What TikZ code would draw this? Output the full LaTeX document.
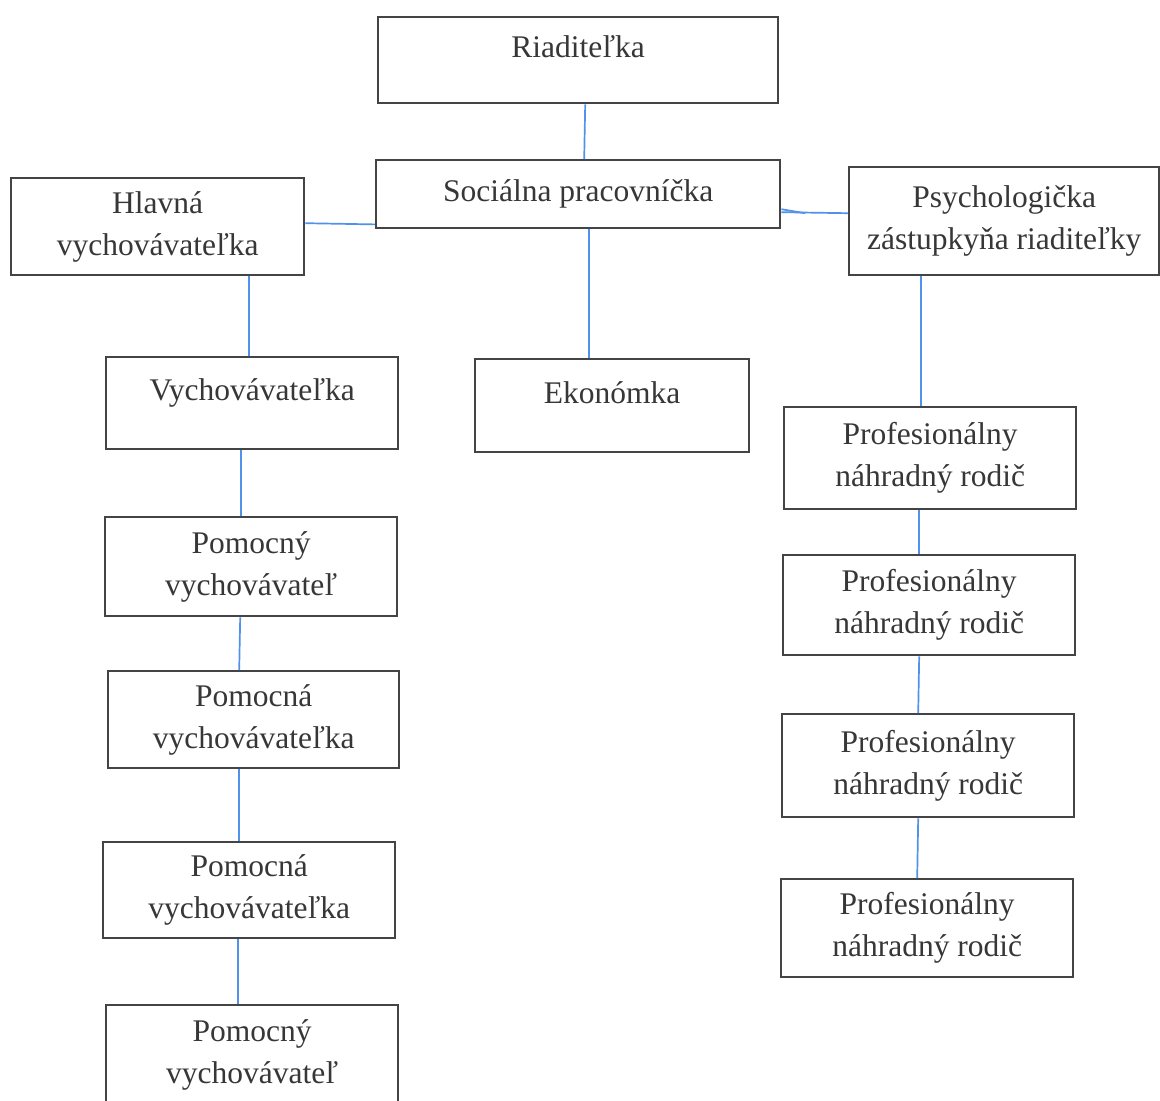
\documentclass[tikz,border=0pt]{standalone}
\usepackage{fontspec}
\setmainfont{Liberation Serif}
\definecolor{boxline}{RGB}{68,68,68}
\definecolor{txt}{RGB}{55,55,55}
\definecolor{conn}{RGB}{80,145,235}
\begin{document}
\begin{tikzpicture}[x=1pt,y=1pt,
  box/.style={draw=boxline, line width=2.4pt, anchor=north west, align=center,
    text=txt, inner sep=0pt, font=\fontsize{31.5}{42}\selectfont},
  oneline/.style={text height=22pt, text depth=27pt},
  link/.style={draw=conn, line width=1.7pt}]
\useasboundingbox[fill=white] (0,0) rectangle (1160,-1101);
% boxes: at (left,-top), width, height
\node[box, oneline, minimum width=400, minimum height=86] (riad) at (377,-16) {Riaditeľka};
\node[box, minimum width=404, minimum height=68] (soc) at (375,-159) {Sociálna pracovníčka};
\node[box, minimum width=293, minimum height=97] (hlav) at (10,-177) {Hlavná\\vychovávateľka};
\node[box, minimum width=310, minimum height=108] (psych) at (848,-166) {Psychologička\\zástupkyňa riaditeľky};
\node[box, oneline, minimum width=292, minimum height=92] (vych) at (105,-356) {Vychovávateľka};
\node[box, oneline, minimum width=274, minimum height=93] (ekon) at (474,-358) {Ekonómka};
\node[box, minimum width=292, minimum height=99] (pomy1) at (104,-516) {Pomocný\\vychovávateľ};
\node[box, minimum width=291, minimum height=97] (pom1) at (107,-670) {Pomocná\\vychovávateľka};
\node[box, minimum width=292, minimum height=96] (pom2) at (102,-841) {Pomocná\\vychovávateľka};
\node[box, minimum width=292, minimum height=100] (pomy2) at (105,-1004) {Pomocný\\vychovávateľ};
\node[box, minimum width=292, minimum height=102] (prof1) at (783,-406) {Profesionálny\\náhradný rodič};
\node[box, minimum width=292, minimum height=100] (prof2) at (782,-554) {Profesionálny\\náhradný rodič};
\node[box, minimum width=292, minimum height=103] (prof3) at (781,-713) {Profesionálny\\náhradný rodič};
\node[box, minimum width=292, minimum height=98] (prof4) at (780,-878) {Profesionálny\\náhradný rodič};
% connectors
\draw[link] ([xshift=7]riad.south) -- ([xshift=6]soc.north);
\draw[link] ([yshift=3.5]hlav.east) -- ([yshift=5]soc.south west);
\draw[link] ([yshift=-18]soc.east) -- ([yshift=8]psych.west);
\draw[link] ([yshift=-15]soc.east) -- ([xshift=-43,yshift=8]psych.west);
\draw[link] ([xshift=11]soc.south) -- ([xshift=-23]ekon.north);
\draw[link] ([xshift=91.5]hlav.south) -- ([xshift=-3]vych.north);
\draw[link] ([xshift=-11]vych.south) -- ([xshift=-10]pomy1.north);
\draw[link] ([xshift=-11]pomy1.south) -- ([xshift=-14.5]pom1.north);
\draw[link] ([xshift=-14.5]pom1.south) -- ([xshift=-10]pom2.north);
\draw[link] ([xshift=-11]pom2.south) -- ([xshift=-14]pomy2.north);
\draw[link] ([xshift=-83]psych.south) -- ([xshift=-9]prof1.north);
\draw[link] ([xshift=-11]prof1.south) -- ([xshift=-10]prof2.north);
\draw[link] ([xshift=-10]prof2.south) -- ([xshift=-10]prof3.north);
\draw[link] ([xshift=-10]prof3.south) -- ([xshift=-10]prof4.north);
\end{tikzpicture}
\end{document}
